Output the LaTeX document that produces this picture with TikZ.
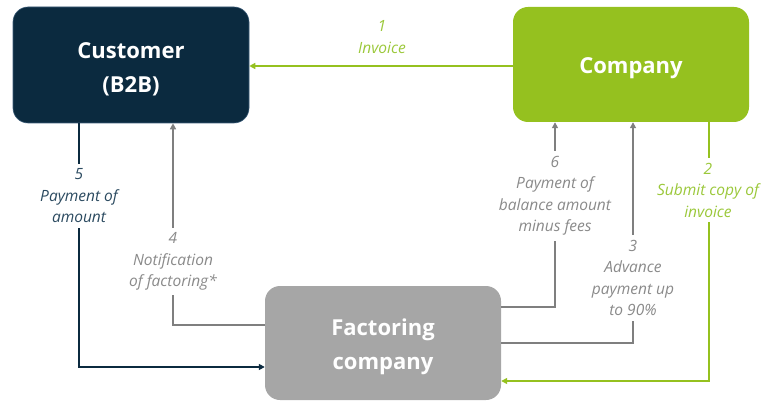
\documentclass[tikz,border=0pt]{standalone}
\usepackage{fontspec}
\setmainfont{Open Sans}
\usetikzlibrary{arrows.meta,positioning}
\definecolor{navy}{HTML}{0B2A3F}
\definecolor{navyedge}{HTML}{3C5C78}
\definecolor{lime}{HTML}{95C11F}
\definecolor{limetext}{HTML}{9BC83A}
\definecolor{boxgray}{HTML}{A6A6A6}
\definecolor{linegray}{HTML}{7F7F7F}
\definecolor{textgray}{HTML}{8A8A8A}
\definecolor{navytext}{HTML}{2B4A60}
\tikzset{
  party/.style={rounded corners=15pt, minimum width=236pt, inner sep=0pt},
  partytext/.style={text=white, align=center, font=\fontsize{22}{34}\selectfont\bfseries, yshift=-4pt},
  conn/.style={line width=1.5pt, -{Triangle[length=6pt,width=6pt]}},
  steplabel/.style={fill=white, align=center, inner xsep=2pt, inner ysep=5pt,
    font=\fontsize{15.5}{21.5}\selectfont\itshape},
}
\begin{document}
\begin{tikzpicture}[x=1pt,y=-1pt]
\useasboundingbox (0,0) rectangle (762,403);
\node[party, fill=navy, draw=navyedge, line width=0.6pt, minimum height=116pt,
  label={[partytext]center:Customer\\(B2B)}] (customer) at (131,65) {};
\node[party, fill=lime, minimum height=115pt,
  label={[partytext]center:Company}] (company) at (631,64.5) {};
\node[party, fill=boxgray, minimum height=114pt,
  label={[partytext]center:Factoring\\company}] (factoring) at (383,343) {};
% elbow coordinates
\coordinate (e2) at (709,381);
\coordinate (e3) at (633,343);
\coordinate (e6) at (555,307);
\coordinate (e4) at (173,325);
\coordinate (e5) at (79,367);
% 1 invoice
\draw[conn, color=lime] (company.west |- 0,66) -- (customer.east |- 0,66);
\node[font=\fontsize{15.5}{21.5}\selectfont\itshape, text=limetext, align=center] (l1) at (382,37) {1\\Invoice};
% 2 submit copy
\draw[conn, color=lime] (e2 |- company.south) -- (e2) -- (e2 -| factoring.east);
\node[steplabel, text=limetext] (l2) at (708,190) {2\\Submit copy of\\invoice};
% 3 advance
\draw[conn, color=linegray] (e3 -| factoring.east) -- (e3) -- (e3 |- company.south);
\node[steplabel, text=textgray] (l3) at (633,278) {3\\Advance\\payment up\\to 90\%};
% 6 balance
\draw[conn, color=linegray] (e6 -| factoring.east) -- (e6) -- (e6 |- company.south);
\node[steplabel, text=textgray] (l6) at (555,196) {6\\Payment of\\balance amount\\minus fees};
% 4 notification
\draw[conn, color=linegray] (e4 -| factoring.west) -- (e4) -- (e4 |- customer.south);
\node[steplabel, text=textgray] (l4) at (173,261.5) {4\\Notification\\of factoring*};
% 5 payment
\draw[conn, color=navy] (e5 |- customer.south) -- (e5) -- (e5 -| factoring.west);
\node[steplabel, text=navytext] (l5) at (79,196) {5\\Payment of\\amount};
\end{tikzpicture}
\end{document}
